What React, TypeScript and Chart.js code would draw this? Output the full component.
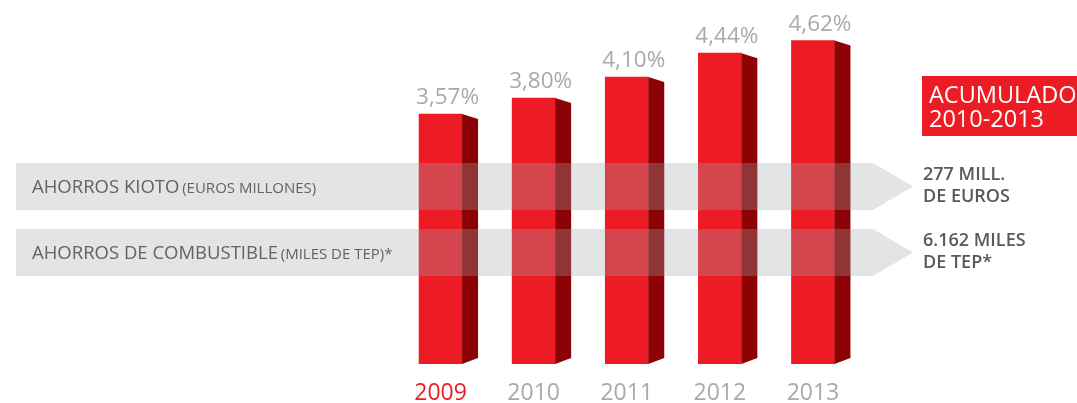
import React, { useEffect, useRef } from "react";
import { Chart, registerables } from "chart.js";

Chart.register(...registerables);

const years = ["2009", "2010", "2011", "2012", "2013"];
const shares = [3.57, 3.8, 4.1, 4.44, 4.62];
const yearColors = ["#ed1c24", "#a7a9ac", "#a7a9ac", "#a7a9ac", "#a7a9ac"];
const bandMain = ["AHORROS KIOTO ", "AHORROS DE COMBUSTIBLE "];
const bandUnit = ["(EUROS MILLONES)", "(MILES DE TEP)*"];
const totalsFirst = ["277 MILL.", "6.162 MILES"];
const totalsSecond = ["DE EUROS", "DE TEP*"];
const boxLines = ["ACUMULADO", "2010-2013"];

const FONT = '"Open Sans", "Noto Sans", sans-serif';

const fmt = (v: number) => v.toFixed(2).replace(".", ",") + "%";

const deco = {
  id: "deco",
  afterDatasetsDraw(chart: any) {
    const ctx = chart.ctx as CanvasRenderingContext2D;
    const meta = chart.getDatasetMeta(0);
    ctx.save();
    // 3D side faces and value labels
    meta.data.forEach((bar: any, i: number) => {
      const { x, y, base, width } = bar.getProps(["x", "y", "base", "width"], true);
      const r = x + width / 2;
      ctx.fillStyle = "#8b0304";
      ctx.beginPath();
      ctx.moveTo(r, y);
      ctx.lineTo(r + 16, y + 5);
      ctx.lineTo(r + 16, base - 6);
      ctx.lineTo(r, base);
      ctx.closePath();
      ctx.fill();
      ctx.fillStyle = "#a7a9ac";
      ctx.font = `22.5px ${FONT}`;
      ctx.textAlign = "center";
      ctx.textBaseline = "alphabetic";
      ctx.fillText(fmt(shares[i]), x + 7, y - 10);
    });

    // translucent arrow bands
    const bandTops = [163, 229];
    const bandH = 47;
    const left = 16;
    const rectRight = 873;
    const tip = 913;
    bandTops.forEach((t, i) => {
      ctx.fillStyle = "rgba(160,165,172,0.3)";
      ctx.beginPath();
      ctx.moveTo(left, t);
      ctx.lineTo(rectRight, t);
      ctx.lineTo(tip, t + bandH / 2);
      ctx.lineTo(rectRight, t + bandH);
      ctx.lineTo(left, t + bandH);
      ctx.closePath();
      ctx.fill();

      const baseY = t + 30;
      ctx.textAlign = "left";
      ctx.textBaseline = "alphabetic";
      ctx.fillStyle = "#626366";
      ctx.font = `18.5px ${FONT}`;
      ctx.fillText(bandMain[i], 32, baseY);
      const w = ctx.measureText(bandMain[i]).width;
      ctx.font = `15px ${FONT}`;
      ctx.fillText(bandUnit[i], 32 + w - 2, baseY);

      ctx.fillStyle = "#58595b";
      ctx.font = `600 18px ${FONT}`;
      ctx.fillText(totalsFirst[i], 923, t + 17);
      ctx.fillText(totalsSecond[i], 923, t + 39);
    });

    // red box
    ctx.fillStyle = "#ed1c24";
    ctx.fillRect(922, 76, 160, 60);
    ctx.fillStyle = "#ffffff";
    ctx.font = `23.5px ${FONT}`;
    ctx.textAlign = "left";
    ctx.fillText(boxLines[0], 929, 103);
    ctx.fillText(boxLines[1], 929, 127);
    ctx.restore();
  },
};

export default function App() {
  const ref = useRef<HTMLCanvasElement | null>(null);
  useEffect(() => {
    if (!ref.current) return;
    const chart = new Chart(ref.current, {
      type: "bar",
      data: {
        labels: years,
        datasets: [
          {
            data: shares,
            backgroundColor: "#ed1c24",
            borderWidth: 0,
            barThickness: 43,
          },
        ],
      },
      options: {
        responsive: false,
        animation: false,
        devicePixelRatio: 1,
        layout: { padding: { left: 394, right: 217.5, top: 14, bottom: 0 } },
        plugins: { legend: { display: false }, tooltip: { enabled: false } },
        scales: {
          y: { display: false, min: 0, max: 5 },
          x: {
            offset: true,
            grid: { display: false, drawTicks: false },
            border: { display: false },
            ticks: {
              padding: 16,
              color: (c: any) => yearColors[c.index],
              font: { family: FONT, size: 23 },
              maxRotation: 0,
            },
            afterFit: (scale: any) => {
              scale.height = 39;
            },
          },
        },
      },
      plugins: [deco],
    });
    return () => chart.destroy();
  }, []);
  return (
    <div style={{ position: "fixed", left: 0, top: 0, width: 1077, height: 403, background: "#fff" }}>
      <canvas ref={ref} width={1077} height={403} style={{ width: 1077, height: 403, display: "block" }} />
    </div>
  );
}
